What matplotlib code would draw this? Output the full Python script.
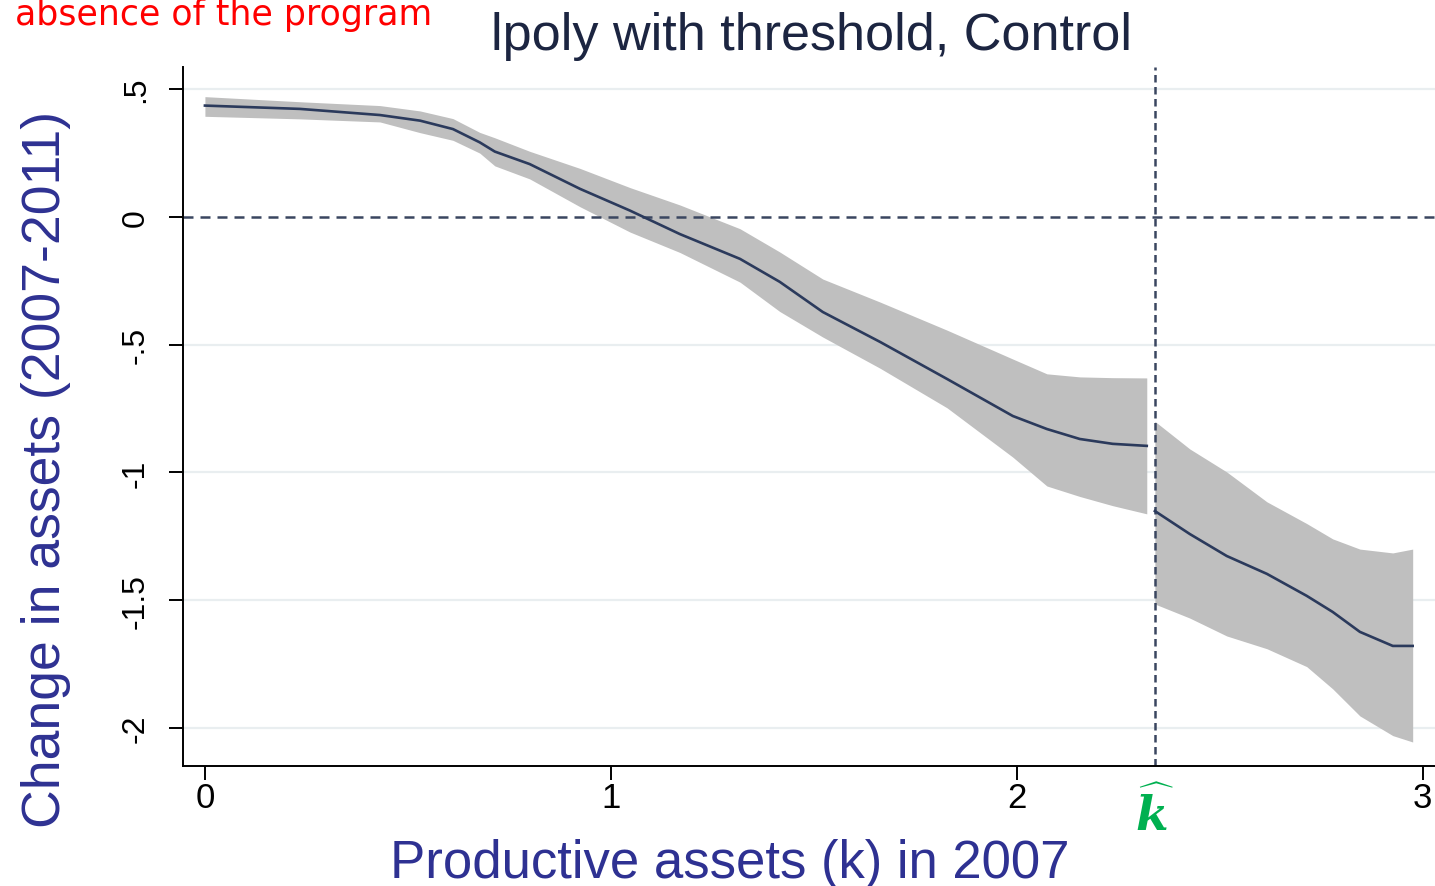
import matplotlib
matplotlib.use("Agg")
import matplotlib.pyplot as plt

# ---- data -------------------------------------------------------------
k_left = [0.000, 0.234, 0.431, 0.530, 0.611, 0.677, 0.714, 0.800, 0.924, 1.047,
          1.170, 1.318, 1.416, 1.522, 1.663, 1.828, 1.990, 2.074, 2.155, 2.236, 2.320]
fit_left = [0.436, 0.423, 0.399, 0.377, 0.344, 0.292, 0.256, 0.207, 0.110, 0.025,
            -0.067, -0.164, -0.254, -0.372, -0.489, -0.634, -0.779, -0.830, -0.869, -0.888, -0.896]
hi_left = [0.471, 0.451, 0.436, 0.415, 0.385, 0.331, 0.310, 0.257, 0.190, 0.115,
           0.047, -0.046, -0.137, -0.243, -0.333, -0.443, -0.556, -0.614, -0.626, -0.629, -0.630]
lo_left = [0.394, 0.384, 0.372, 0.330, 0.300, 0.250, 0.200, 0.149, 0.040, -0.059,
           -0.139, -0.255, -0.370, -0.470, -0.592, -0.747, -0.940, -1.053, -1.094, -1.130, -1.162]

k_right = [2.340, 2.426, 2.517, 2.616, 2.714, 2.778, 2.845, 2.926, 2.975]
fit_right = [-1.151, -1.241, -1.327, -1.397, -1.483, -1.546, -1.624, -1.679, -1.679]
hi_right = [-0.800, -0.908, -0.998, -1.115, -1.200, -1.260, -1.300, -1.315, -1.300]
lo_right = [-1.515, -1.570, -1.640, -1.690, -1.760, -1.847, -1.953, -2.030, -2.055]

k_hat = 2.34
x_ticks = [0, 1, 2, 3]
x_tick_labels = ["0", "1", "2", "3"]
y_ticks = [0.5, 0, -0.5, -1, -1.5, -2]
y_tick_labels = [".5", "0", "-.5", "-1", "-1.5", "-2"]

title = "lpoly with threshold, Control"
x_label = "Productive assets (k) in 2007"
y_label = "Change in assets (2007-2011)"
note = "absence of the program"

# ---- style ------------------------------------------------------------
W, H = 1435, 887
plt.rcParams["font.family"] = ["Liberation Sans", "DejaVu Sans"]
plt.rcParams["mathtext.fontset"] = "custom"
plt.rcParams["mathtext.it"] = "DejaVu Serif:italic:bold"
plt.rcParams["mathtext.rm"] = "DejaVu Serif:bold"

label_blue = "#2e3192"
line_col = "#2b3a5c"
band_col = "#bfbfbf"
dash_col = "#3a4660"
grid_col = "#e9eef0"

fig = plt.figure(figsize=(W / 100, H / 100), dpi=100)
ax = fig.add_axes([183 / W, 1 - 767 / H, (W - 183) / W, (767 - 68) / H])

ax.set_xlim(-0.054, 3.03)
ax.set_ylim(-2.149, 0.587)

for yv in y_ticks:
    if yv != 0:
        ax.axhline(yv, color=grid_col, lw=1.6, zorder=0)

ax.fill_between(k_left, lo_left, hi_left, color=band_col, lw=0, zorder=1)
ax.fill_between(k_right, lo_right, hi_right, color=band_col, lw=0, zorder=1)

ax.axhline(0, color=dash_col, lw=1.8, ls=(0, (4, 2.8)), zorder=2)
ax.axvline(k_hat, color=dash_col, lw=1.8, ls=(0, (3.0, 1.8)), zorder=2)

ax.plot(k_left, fit_left, color=line_col, lw=1.9, zorder=3)
ax.plot(k_right, fit_right, color=line_col, lw=1.9, zorder=3)

for side in ("top", "right"):
    ax.spines[side].set_visible(False)
for side in ("left", "bottom"):
    ax.spines[side].set_linewidth(1.4)
    ax.spines[side].set_color("black")

ax.set_xticks(x_ticks)
ax.set_xticklabels(x_tick_labels, fontsize=25)
ax.set_yticks(y_ticks)
ax.set_yticklabels(y_tick_labels, fontsize=23, rotation=90, va="center")
ax.tick_params(axis="x", length=10, width=1.4, pad=1, direction="out")
ax.tick_params(axis="y", length=10, width=1.4, pad=13, direction="out")

# threshold marker under the axis
ax.text(k_hat, -2.335, r"$\widehat{k}$", color="#00b050", fontsize=34,
        ha="center", va="center")

# titles and axis labels
fig.text(812 / W, 1 - 50 / H, title, fontsize=37.5, color="#1c2541",
         ha="center", va="baseline")
fig.text(730 / W, 1 - 878 / H, x_label, fontsize=38, color=label_blue,
         ha="center", va="baseline")
fig.text(60 / W, 1 - 469 / H, y_label, fontsize=38.5, color=label_blue,
         rotation=90, rotation_mode="anchor", ha="center", va="baseline")
fig.text(432 / W, 1 - 25 / H, note, fontsize=25, color="#ff0000",
         family=["DejaVu Sans"], ha="right", va="baseline")

fig.savefig("out.png", dpi=100)
